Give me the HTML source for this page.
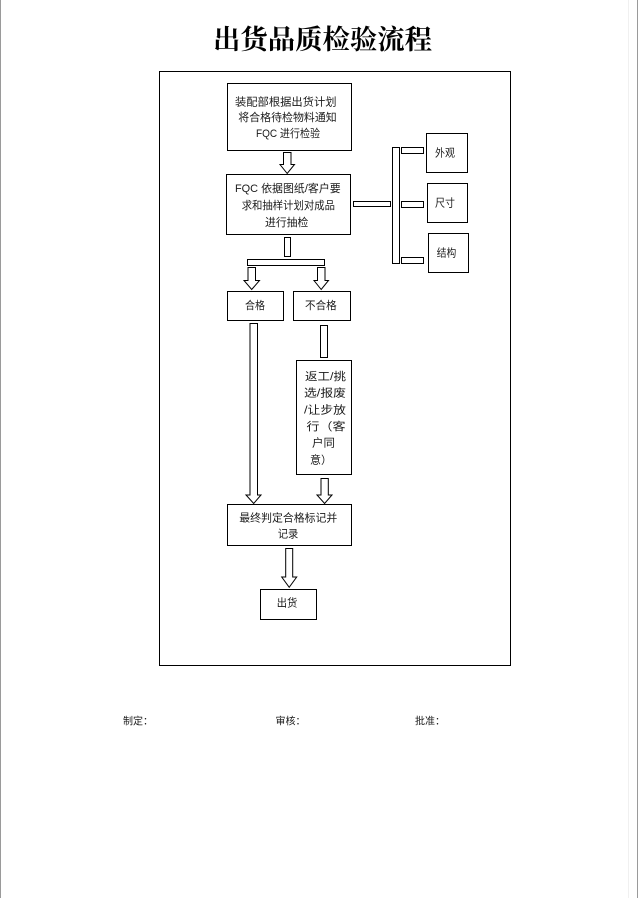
<!DOCTYPE html>
<html>
<head>
<meta charset="utf-8">
<style>
  html,body{margin:0;padding:0;background:#fff;}
  body{width:639px;height:898px;overflow:hidden;position:relative;}
  svg{display:block;}
  .t{font-family:"Liberation Sans","Noto Sans CJK SC",sans-serif;font-size:11px;fill:#1a1a1a;}
  .f{font-family:"Liberation Sans","Noto Sans CJK SC",sans-serif;font-size:10px;fill:#1a1a1a;}
  .title{font-family:"Liberation Serif","Noto Serif CJK SC",serif;font-size:27px;font-weight:bold;fill:#000;}
</style>
</head>
<body>
<svg width="639" height="898" viewBox="0 0 639 898" xmlns="http://www.w3.org/2000/svg">
  <!-- page edges -->
  <line x1="0.5" y1="0" x2="0.5" y2="898" stroke="#9a9a9a" stroke-width="1"/>
  <line x1="628.5" y1="0" x2="628.5" y2="898" stroke="#f0f0f0" stroke-width="1"/>
  <line x1="637.5" y1="0" x2="637.5" y2="898" stroke="#9a9a9a" stroke-width="1"/>

  <!-- title -->
  <text class="title" x="213" y="49" textLength="219" lengthAdjust="spacingAndGlyphs">出货品质检验流程</text>

  <g fill="#fff" stroke="#000" stroke-width="1">
    <!-- outer frame -->
    <rect x="159.5" y="71.5" width="351" height="594"/>
    <!-- box1 -->
    <rect x="227.5" y="83.5" width="124" height="67"/>
    <!-- box2 -->
    <rect x="226.5" y="174.5" width="124" height="60"/>
    <!-- right side boxes -->
    <rect x="426.5" y="133.5" width="41" height="39"/>
    <rect x="427.5" y="183.5" width="40" height="39"/>
    <rect x="428.5" y="233.5" width="40" height="39"/>
    <!-- connectors right -->
    <rect x="353.5" y="201.5" width="37" height="5"/>
    <rect x="392.5" y="147.5" width="7" height="116"/>
    <rect x="401.5" y="147.5" width="22" height="6"/>
    <rect x="401.5" y="201.5" width="22" height="6"/>
    <rect x="401.5" y="257.5" width="22" height="6"/>
    <!-- stub below box2 and bar -->
    <rect x="284.5" y="237.5" width="6" height="19"/>
    <rect x="247.5" y="259.5" width="77" height="6"/>
    <!-- 合格 / 不合格 -->
    <rect x="227.5" y="291.5" width="56" height="29"/>
    <rect x="293.5" y="291.5" width="57" height="29"/>
    <!-- stub from 不合格 -->
    <rect x="320.5" y="325.5" width="7" height="32"/>
    <!-- 返工 box -->
    <rect x="296.5" y="360.5" width="55" height="114"/>
    <!-- 最终 box -->
    <rect x="227.5" y="504.5" width="124" height="41"/>
    <!-- 出货 box -->
    <rect x="260.5" y="589.5" width="56" height="30"/>

    <!-- block arrows -->
    <polygon points="283.5,152.5 291,152.5 291,164.5 294.5,164.5 287.2,173.5 280,164.5 283.5,164.5"/>
    <polygon points="248,267.5 255.5,267.5 255.5,280.5 259.5,280.5 251.7,289.5 244,280.5 248,280.5"/>
    <polygon points="317.5,267.5 325,267.5 325,280.5 328.5,280.5 321.2,289.5 314,280.5 317.5,280.5"/>
    <polygon points="250,323.5 257.5,323.5 257.5,495 261,495 253.7,503.5 246,495 250,495"/>
    <polygon points="321,478.5 328.3,478.5 328.3,495 332,495 324.6,503.5 317,495 321,495"/>
    <polygon points="285.7,548.5 292.7,548.5 292.7,577 296.7,577 289.2,587.3 281.7,577 285.7,577"/>
  </g>

  <!-- box1 text -->
  <text class="t" x="235" y="105.5" textLength="101.5" lengthAdjust="spacingAndGlyphs">装配部根据出货计划</text>
  <text class="t" x="238.3" y="121" textLength="98.4" lengthAdjust="spacingAndGlyphs">将合格待检物料通知</text>
  <text class="t" x="256" y="136.8" textLength="64" lengthAdjust="spacingAndGlyphs">FQC 进行检验</text>

  <!-- box2 text -->
  <text class="t" x="235" y="192" textLength="105.7" lengthAdjust="spacingAndGlyphs">FQC 依据图纸/客户要</text>
  <text class="t" x="241.7" y="209" textLength="93.3" lengthAdjust="spacingAndGlyphs">求和抽样计划对成品</text>
  <text class="t" x="265" y="226" textLength="43.3" lengthAdjust="spacingAndGlyphs">进行抽检</text>

  <!-- right box labels -->
  <text class="t" x="435" y="156.7" textLength="20" lengthAdjust="spacingAndGlyphs">外观</text>
  <text class="t" x="435" y="206.7" textLength="20" lengthAdjust="spacingAndGlyphs">尺寸</text>
  <text class="t" x="436.7" y="256.7" textLength="19.5" lengthAdjust="spacingAndGlyphs">结构</text>

  <!-- 合格 / 不合格 -->
  <text class="t" x="245" y="309" textLength="20" lengthAdjust="spacingAndGlyphs">合格</text>
  <text class="t" x="305" y="309" textLength="31.7" lengthAdjust="spacingAndGlyphs">不合格</text>

  <!-- 返工 box text -->
  <text class="t" x="305" y="380" textLength="41" lengthAdjust="spacingAndGlyphs">返工/挑</text>
  <text class="t" x="304" y="396.7" textLength="42" lengthAdjust="spacingAndGlyphs">选/报废</text>
  <text class="t" x="304" y="413.3" textLength="42" lengthAdjust="spacingAndGlyphs">/让步放</text>
  <text class="t" x="306.5" y="430" textLength="39" lengthAdjust="spacingAndGlyphs">行（客</text>
  <text class="t" x="312" y="446.7" textLength="23" lengthAdjust="spacingAndGlyphs">户同</text>
  <text class="t" x="310" y="463.3" textLength="22" lengthAdjust="spacingAndGlyphs">意）</text>

  <!-- 最终 text -->
  <text class="t" x="239.3" y="521.3" textLength="98" lengthAdjust="spacingAndGlyphs">最终判定合格标记并</text>
  <text class="t" x="277.7" y="537.3" textLength="20.6" lengthAdjust="spacingAndGlyphs">记录</text>

  <!-- 出货 -->
  <text class="t" x="276.7" y="606.7" textLength="20.6" lengthAdjust="spacingAndGlyphs">出货</text>

  <!-- footer -->
  <text class="f" x="123" y="724.5">制定：</text>
  <text class="f" x="275.5" y="724.5">审核：</text>
  <text class="f" x="415" y="724.5">批准：</text>
</svg>
</body>
</html>
